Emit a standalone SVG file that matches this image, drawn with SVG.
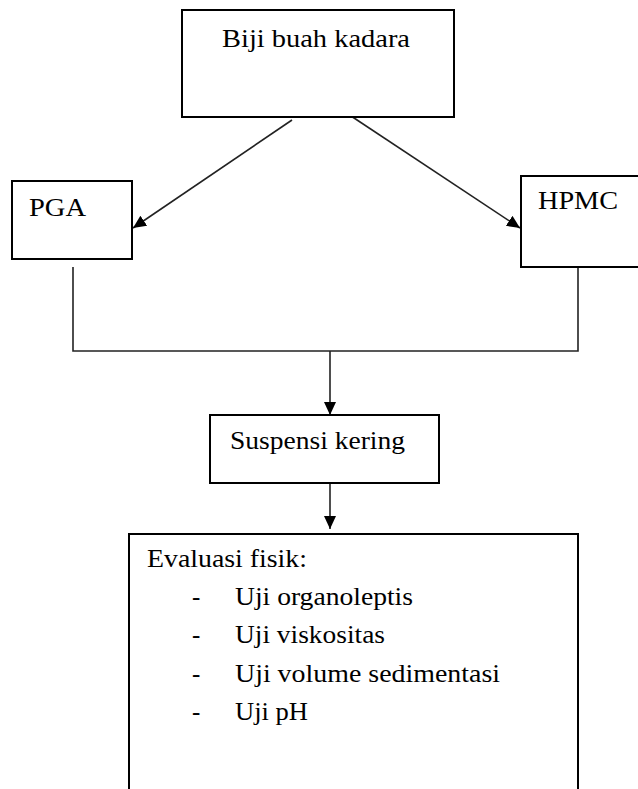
<svg xmlns="http://www.w3.org/2000/svg" width="638" height="789" viewBox="0 0 638 789">
<style>
.box{fill:#fff;stroke:#000;stroke-width:2}
.t{font-family:"Liberation Serif","Times New Roman",serif;font-size:25px;fill:#000}
.c{fill:none;stroke:#222;stroke-width:1.6}
</style>
<defs>
<marker id="ah" markerUnits="userSpaceOnUse" markerWidth="14" markerHeight="12" refX="13" refY="6" orient="auto">
<path d="M0,0 L13,6 L0,12 Z" fill="#000"/>
</marker>
</defs>
<rect x="0" y="0" width="638" height="789" fill="#fff"/>
<g id="connectors">
<line class="c" x1="292" y1="120" x2="133" y2="228" marker-end="url(#ah)"/>
<line class="c" x1="348" y1="114" x2="520" y2="228" marker-end="url(#ah)"/>
<polyline class="c" points="73,267 73,351 578,351 578,267"/>
<line class="c" x1="330" y1="351" x2="330" y2="415" marker-end="url(#ah)"/>
<line class="c" x1="330" y1="483" x2="330" y2="529" marker-end="url(#ah)"/>
</g>
<g id="biji">
<rect class="box" x="182" y="10" width="272" height="107"/>
<text class="t" x="222" y="47" textLength="188" lengthAdjust="spacingAndGlyphs">Biji buah kadara</text>
</g>
<g id="pga">
<rect class="box" x="12" y="181" width="120" height="78"/>
<text class="t" x="29" y="216" textLength="57" lengthAdjust="spacingAndGlyphs">PGA</text>
</g>
<g id="hpmc">
<rect class="box" x="521" y="176" width="130" height="91"/>
<text class="t" x="538" y="209" textLength="80" lengthAdjust="spacingAndGlyphs">HPMC</text>
</g>
<g id="suspensi">
<rect class="box" x="210" y="415" width="229" height="68"/>
<text class="t" x="230" y="449" textLength="175" lengthAdjust="spacingAndGlyphs">Suspensi kering</text>
</g>
<g id="evaluasi">
<rect class="box" x="129" y="534" width="449" height="270"/>
<text class="t" x="147" y="567" textLength="160" lengthAdjust="spacingAndGlyphs">Evaluasi fisik:</text>
<text class="t" x="192" y="605">-</text>
<text class="t" x="235" y="605" textLength="178" lengthAdjust="spacingAndGlyphs">Uji organoleptis</text>
<text class="t" x="192" y="643">-</text>
<text class="t" x="235" y="643" textLength="150" lengthAdjust="spacingAndGlyphs">Uji viskositas</text>
<text class="t" x="192" y="682">-</text>
<text class="t" x="235" y="682" textLength="265" lengthAdjust="spacingAndGlyphs">Uji volume sedimentasi</text>
<text class="t" x="192" y="720">-</text>
<text class="t" x="235" y="720" textLength="73" lengthAdjust="spacingAndGlyphs">Uji pH</text>
</g>
</svg>
